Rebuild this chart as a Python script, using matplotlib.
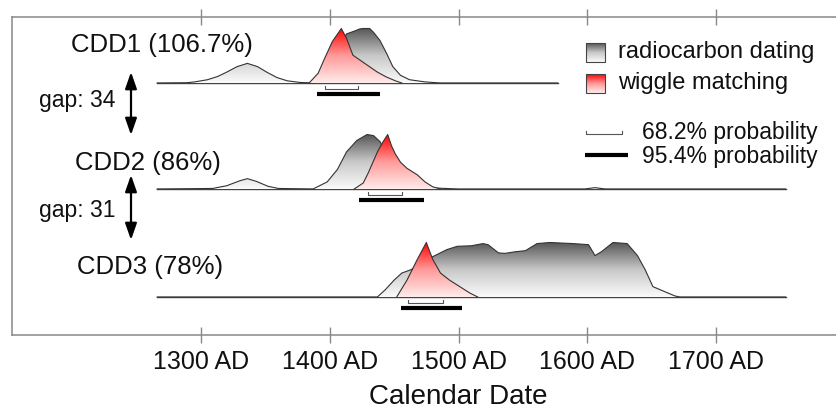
import numpy as np
import matplotlib
matplotlib.use('Agg')
import matplotlib.pyplot as plt
from matplotlib.colors import LinearSegmentedColormap
from matplotlib.patches import PathPatch, Rectangle

plt.rcParams['font.family'] = ['Liberation Sans', 'DejaVu Sans']

#data: relative probability (peak = 1) against calendar year
row_labels = ['CDD1 (106.7%)', 'CDD2 (86%)', 'CDD3 (78%)']
gap_labels = ['gap: 34', 'gap: 31']

cdd1_rc_year = [1266, 1289, 1295, 1305, 1313, 1320, 1328, 1336, 1344, 1351, 1359, 1367, 1377, 1388,
                1393, 1400, 1413, 1420, 1423, 1426, 1431, 1434, 1439, 1444, 1449, 1455, 1462, 1474, 1486, 1577]
cdd1_rc_dens = [0, 0.005, 0.02, 0.06, 0.12, 0.2, 0.3, 0.36, 0.3, 0.2, 0.1, 0.04, 0.01, 0,
                0.1, 0.35, 0.9, 0.96, 0.99, 1.0, 1.0, 0.93, 0.78, 0.55, 0.3, 0.14, 0.06, 0.02, 0, 0]
cdd1_wm_year = [1384, 1391, 1396, 1402, 1409, 1413, 1418, 1429, 1437, 1444, 1451, 1456]
cdd1_wm_dens = [0, 0.18, 0.45, 0.76, 1.0, 0.82, 0.51, 0.33, 0.2, 0.11, 0.04, 0]

cdd2_rc_year = [1266, 1309, 1320, 1330, 1336, 1343, 1352, 1360, 1387, 1398, 1406, 1413, 1421, 1429,
                1434, 1439, 1445, 1451, 1460, 1468, 1480, 1490, 1500, 1598, 1606, 1614, 1754]
cdd2_rc_dens = [0, 0.01, 0.06, 0.15, 0.19, 0.14, 0.05, 0.01, 0, 0.13, 0.36, 0.68, 0.89, 1.0,
                0.98, 0.87, 0.6, 0.33, 0.12, 0.05, 0.02, 0.01, 0, 0, 0.025, 0, 0]
cdd2_wm_year = [1419, 1426, 1430, 1437, 1441, 1445, 1448, 1451, 1455, 1460, 1468, 1474, 1480, 1486]
cdd2_wm_dens = [0, 0.11, 0.3, 0.68, 0.85, 1.0, 0.79, 0.64, 0.49, 0.38, 0.26, 0.13, 0.04, 0]

cdd3_rc_year = [1266, 1437, 1443, 1450, 1456, 1463, 1470, 1477, 1480, 1491, 1499, 1510, 1519, 1523,
                1531, 1536, 1544, 1552, 1561, 1571, 1589, 1601, 1606, 1611, 1620, 1631, 1639, 1645,
                1651, 1659, 1668, 1672, 1754]
cdd3_rc_dens = [0, 0, 0.13, 0.31, 0.44, 0.5, 0.6, 0.68, 0.74, 0.87, 0.93, 0.94, 0.98, 0.96,
                0.81, 0.8, 0.83, 0.85, 0.98, 1.0, 0.98, 0.96, 0.76, 0.83, 1.0, 0.98, 0.76, 0.5,
                0.19, 0.11, 0.02, 0, 0]
cdd3_wm_year = [1452, 1460, 1468, 1475, 1480, 1486, 1493, 1501, 1509, 1515]
cdd3_wm_dens = [0, 0.31, 0.69, 1.0, 0.69, 0.44, 0.31, 0.19, 0.07, 0]

range68 = [(1396, 1422), (1430, 1456), (1461, 1488)]
range95 = [(1390, 1439), (1423, 1473), (1455, 1503)]

xticks = [1300, 1400, 1500, 1600, 1700]

#layout helpers (reference pixels -> data)
W, H = 836, 412
def xd(px):
    return 1300 + (px - 201) / 1.2875
def yd(py):
    return 335 - py

gray_cmap = LinearSegmentedColormap.from_list('g', ['#fbfbfb', '#c8c8c8', '#555555'])
red_cmap = LinearSegmentedColormap.from_list('r', ['#ffecec', '#ff9a9a', '#ff0000'])
grad = np.linspace(0, 1, 256).reshape(-1, 1)

def grad_fill(ax, years, dens, base, scale, cmap, z):
    x = np.asarray(years, float)
    top = base + scale * np.asarray(dens, float)
    poly = ax.fill_between(x, base, top, facecolor='none', edgecolor='none', zorder=z)
    patch = PathPatch(poly.get_paths()[0], transform=ax.transData, facecolor='none', edgecolor='none')
    ax.add_patch(patch)
    im = ax.imshow(grad, extent=[x.min(), x.max(), base, top.max()], origin='lower',
                   cmap=cmap, aspect='auto', zorder=z, interpolation='bilinear')
    im.set_clip_path(patch)
    ax.plot(x, top, color='#333333', lw=0.8, zorder=z + 0.1)

fig = plt.figure(figsize=(W / 100, H / 100), dpi=100)
ax = fig.add_axes([12 / W, (H - 335) / H, (860 - 12) / W, (335 - 17) / H])

rows = [(cdd1_rc_year, cdd1_rc_dens, cdd1_wm_year, cdd1_wm_dens),
        (cdd2_rc_year, cdd2_rc_dens, cdd2_wm_year, cdd2_wm_dens),
        (cdd3_rc_year, cdd3_rc_dens, cdd3_wm_year, cdd3_wm_dens)]
bases = [yd(83), yd(189), yd(297)]
scale = 54.5

for i, (rc_y, rc_d, wm_y, wm_d) in enumerate(rows):
    b = bases[i]
    ax.plot([rc_y[0], rc_y[-1]], [b, b], color='#444444', lw=1.0, zorder=1)
    grad_fill(ax, rc_y, rc_d, b, scale, gray_cmap, 2)
    grad_fill(ax, wm_y, wm_d, b, scale, red_cmap, 3)
    a, c = range68[i]
    ax.plot([a, a, c, c], [b - 3, b - 6, b - 6, b - 3], color='#555555', lw=0.8, zorder=4)
    a, c = range95[i]
    ax.plot([a, c], [b - 11, b - 11], color='black', lw=3, solid_capstyle='butt', zorder=4)

#row labels and gaps
label_pos = [(162, 45), (148, 163), (150, 267)]
for lab, (px, py) in zip(row_labels, label_pos):
    ax.text(xd(px), yd(py), lab, ha='center', va='center', fontsize=18.5, color='#111111')
for lab, py in zip(gap_labels, [100, 210]):
    ax.text(xd(39), yd(py), lab, ha='left', va='center', fontsize=16.5, color='#111111')
for y1, y2 in [(72, 135), (175, 240)]:
    ax.annotate('', xy=(xd(131), yd(y1)), xytext=(xd(131), yd(y2)),
                arrowprops=dict(arrowstyle='<|-|>,head_length=1.0,head_width=0.35', lw=1.6,
                                color='black', shrinkA=0, shrinkB=0, mutation_scale=10))

#legend
for cmap, (py0, py1) in [(gray_cmap, (43, 62)), (red_cmap, (74, 93))]:
    ax.imshow(grad, extent=[xd(586), xd(605), yd(py1), yd(py0)], origin='lower', cmap=cmap,
              aspect='auto', zorder=5)
    ax.add_patch(Rectangle((xd(586), yd(py1)), xd(605) - xd(586), py1 - py0, facecolor='none',
                           edgecolor='#444444', lw=0.8, zorder=6))
ax.text(xd(618), yd(52), 'radiocarbon dating', ha='left', va='center', fontsize=17, color='#111111')
ax.text(xd(618), yd(83), 'wiggle matching', ha='left', va='center', fontsize=17, color='#111111')
ax.plot([xd(586), xd(586), xd(622), xd(622)], [yd(130.5), yd(134), yd(134), yd(130.5)],
        color='#555555', lw=0.8)
ax.plot([xd(585), xd(628)], [yd(155), yd(155)], color='black', lw=3, solid_capstyle='butt')
ax.text(xd(642), yd(132), '68.2% probability', ha='left', va='center', fontsize=16.5, color='#111111')
ax.text(xd(642), yd(157), '95.4% probability', ha='left', va='center', fontsize=16.5, color='#111111')

#axes
ax.set_xlim(xd(12), xd(860))
ax.set_ylim(0, 318)
ax.set_yticks([])
ax.set_xticks(xticks)
ax.set_xticklabels([f'{t} AD' for t in xticks])
ax.tick_params(axis='x', direction='inout', length=11.5, width=1.0, color='#888888', top=True,
               labelsize=18, pad=5, labelcolor='#111111')
for s in ax.spines.values():
    s.set_color('#888888')
    s.set_linewidth(1.1)
fig.text(458 / W, 1 - 397 / H, 'Calendar Date', ha='center', va='center', fontsize=20, color='#111111')

fig.savefig('out.png', dpi=100)
plt.close(fig)
